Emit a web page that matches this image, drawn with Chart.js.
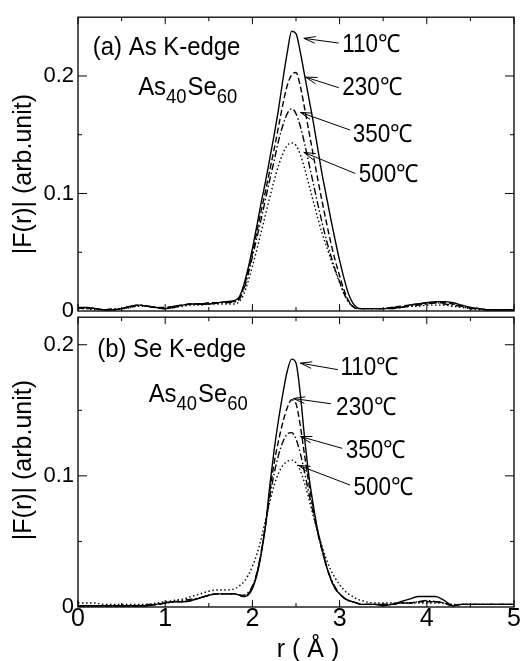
<!DOCTYPE html>
<html>
<head>
<meta charset="utf-8">
<script src="https://cdn.jsdelivr.net/npm/chart.js@4.4.0/dist/chart.umd.min.js"></script>
<style>
  body { margin: 0; background: #fff; }
  #wrap { position: relative; width: 520px; height: 661px; }
  canvas { position: absolute; left: 0; }
</style>
</head>
<body>
<div id="wrap">
  <canvas id="panelA" width="520" height="330" style="top:0"></canvas>
  <canvas id="panelB" width="520" height="361" style="top:300px"></canvas>
</div>
<script>
// r grid (Å), finer around the first-shell peak
const rGrid = [0,0.1,0.2,0.3,0.4,0.5,0.6,0.7,0.8,0.9,1.0,1.1,1.2,1.3,1.4,1.5,1.6,1.7,
  1.8,1.85,1.9,1.95,2.0,2.05,2.1,2.15,2.2,2.25,2.3,2.35,2.4,2.45,2.5,2.55,2.6,2.65,2.7,2.75,2.8,2.85,2.9,2.95,3.0,3.05,3.1,3.15,3.2,3.25,3.3,
  3.4,3.5,3.6,3.7,3.8,3.9,4.0,4.1,4.2,4.3,4.4,4.5,4.6,4.7,4.8,4.9,5.0];

const temps = ['110℃', '230℃', '350℃', '500℃'];

// (a) As K-edge
const asK110 = [0.003,0.003,0.002,0.001,0.001,0.002,0.004,0.005,0.004,0.003,0.002,0.004,0.005,0.006,0.006,0.006,0.007,0.008,
  0.009,0.012,0.022,0.036,0.053,0.072,0.092,0.110,0.130,0.150,0.172,0.197,0.220,0.238,0.236,0.220,0.200,0.180,0.160,0.138,0.116,0.097,0.078,0.060,0.043,0.028,0.015,0.007,0.003,0.002,0.002,
  0.002,0.002,0.003,0.003,0.005,0.006,0.007,0.008,0.008,0.007,0.005,0.003,0.002,0.001,0.001,0.001,0.001];
const asK230 = [0.003,0.002,0.002,0.001,0.001,0.002,0.004,0.005,0.004,0.003,0.003,0.004,0.005,0.006,0.006,0.007,0.007,0.008,
  0.008,0.011,0.020,0.033,0.049,0.067,0.085,0.102,0.120,0.138,0.157,0.176,0.192,0.201,0.203,0.191,0.172,0.152,0.132,0.112,0.093,0.075,0.058,0.043,0.030,0.018,0.009,0.004,0.002,0.002,0.002,
  0.002,0.002,0.003,0.004,0.005,0.006,0.007,0.007,0.007,0.006,0.004,0.003,0.002,0.001,0.001,0.001,0.001];
const asK350 = [0.002,0.003,0.002,0.001,0.002,0.002,0.003,0.005,0.004,0.003,0.002,0.003,0.005,0.006,0.006,0.006,0.007,0.007,
  0.008,0.010,0.018,0.031,0.046,0.062,0.078,0.095,0.112,0.128,0.145,0.158,0.168,0.172,0.168,0.157,0.142,0.125,0.108,0.091,0.075,0.060,0.047,0.035,0.025,0.015,0.008,0.004,0.002,0.002,0.002,
  0.002,0.002,0.002,0.003,0.004,0.005,0.006,0.007,0.006,0.005,0.004,0.002,0.002,0.001,0.001,0.001,0.001];
const asK500 = [0.002,0.002,0.001,0.001,0.001,0.002,0.003,0.004,0.004,0.003,0.002,0.003,0.004,0.005,0.005,0.006,0.006,0.006,
  0.006,0.008,0.014,0.025,0.038,0.052,0.067,0.082,0.097,0.111,0.124,0.134,0.141,0.143,0.141,0.133,0.121,0.107,0.093,0.079,0.066,0.055,0.044,0.034,0.024,0.015,0.008,0.004,0.002,0.002,0.002,
  0.002,0.002,0.002,0.003,0.004,0.004,0.005,0.005,0.005,0.004,0.003,0.002,0.001,0.001,0.001,0.001,0.001];

// (b) Se K-edge
const seK110 = [0.001,0.001,0.001,0.001,0.001,0.001,0.001,0.001,0.001,0.002,0.003,0.004,0.004,0.005,0.007,0.009,0.010,0.010,
  0.010,0.009,0.008,0.009,0.014,0.024,0.040,0.062,0.093,0.120,0.143,0.163,0.180,0.189,0.186,0.162,0.128,0.099,0.077,0.058,0.044,0.031,0.021,0.014,0.010,0.007,0.005,0.004,0.003,0.002,0.002,
  0.002,0.001,0.002,0.004,0.006,0.008,0.008,0.008,0.005,0.001,0.002,0.002,0.002,0.002,0.002,0.002,0.002];
const seK230 = [0.001,0.001,0.001,0.001,0.001,0.001,0.001,0.001,0.001,0.002,0.003,0.004,0.004,0.005,0.007,0.009,0.010,0.010,
  0.010,0.009,0.008,0.010,0.015,0.025,0.041,0.062,0.088,0.110,0.127,0.141,0.152,0.158,0.155,0.138,0.115,0.093,0.074,0.057,0.043,0.031,0.021,0.014,0.010,0.007,0.005,0.004,0.003,0.002,0.002,
  0.002,0.002,0.002,0.003,0.003,0.004,0.004,0.004,0.003,0.001,0.002,0.002,0.002,0.002,0.002,0.002,0.002];
const seK350 = [0.001,0.001,0.001,0.001,0.001,0.001,0.001,0.001,0.002,0.002,0.003,0.004,0.005,0.006,0.007,0.009,0.010,0.010,
  0.010,0.009,0.009,0.011,0.016,0.026,0.042,0.062,0.084,0.102,0.116,0.126,0.132,0.133,0.128,0.117,0.102,0.086,0.071,0.056,0.043,0.031,0.022,0.015,0.010,0.007,0.005,0.004,0.003,0.002,0.002,
  0.002,0.002,0.002,0.003,0.003,0.004,0.005,0.004,0.003,0.001,0.002,0.002,0.002,0.002,0.002,0.002,0.002];
const seK500 = [0.003,0.003,0.003,0.002,0.002,0.002,0.002,0.002,0.002,0.003,0.004,0.005,0.006,0.008,0.010,0.012,0.013,0.013,
  0.014,0.016,0.019,0.024,0.031,0.040,0.052,0.066,0.080,0.093,0.102,0.108,0.111,0.112,0.110,0.104,0.094,0.082,0.069,0.057,0.046,0.036,0.028,0.022,0.017,0.013,0.010,0.008,0.006,0.005,0.004,
  0.003,0.003,0.003,0.003,0.003,0.003,0.003,0.003,0.003,0.002,0.002,0.002,0.002,0.002,0.002,0.002,0.002];

const xTickVals = [0, 1, 2, 3, 4, 5];
const yTickVals = [0, 0.1, 0.2];

const FONT = '"Liberation Sans", Arial, Helvetica, sans-serif';
Chart.defaults.font.family = FONT;
Chart.defaults.color = '#000';

const dashes = [[], [6, 3], [7, 2.5, 1.5, 2.5], [1.5, 2.5]];

// the figure's lettering is a slightly narrow sans, so squeeze it a bit
function narrowText(ctx, t, x, y, size, sx) {
  ctx.font = size + 'px ' + FONT;
  ctx.save();
  ctx.translate(x, y);
  ctx.scale(sx, 1);
  ctx.fillText(t, 0, 0);
  ctx.restore();
  return ctx.measureText(t).width * sx;
}

// frame, inward ticks, labels and arrows
const panelDecor = {
  id: 'panelDecor',
  afterDraw(chart, args, opts) {
    const { ctx, chartArea: a } = chart;
    const x = chart.scales.x, y = chart.scales.y;
    const px = v => x.getPixelForValue(v);
    const py = v => y.getPixelForValue(v);
    const seg = (x1, y1, x2, y2) => { ctx.beginPath(); ctx.moveTo(x1, y1); ctx.lineTo(x2, y2); ctx.stroke(); };

    ctx.save();
    ctx.strokeStyle = '#000';
    ctx.fillStyle = '#000';
    ctx.lineWidth = 1.3;
    ctx.strokeRect(a.left, a.top, a.right - a.left, a.bottom - a.top);

    ctx.lineWidth = 1;
    for (let i = 0; i <= 10; i++) {
      const len = i % 2 === 0 ? 7 : 4;
      seg(px(i * 0.5), a.top, px(i * 0.5), a.top + len);
      seg(px(i * 0.5), a.bottom, px(i * 0.5), a.bottom - len);
    }
    for (let i = 1; i * 0.05 < y.max; i++) {
      const len = i % 2 === 0 ? 9 : 4;
      seg(a.left, py(i * 0.05), a.left + len, py(i * 0.05));
      seg(a.right, py(i * 0.05), a.right - len, py(i * 0.05));
    }

    ctx.textBaseline = 'middle';
    ctx.textAlign = 'left';

    // panel label
    narrowText(ctx, opts.edge.text, px(opts.edge.at[0]), py(opts.edge.at[1]), 26, 0.92);

    // As40Se60 with subscripts
    let cx = px(opts.formula[0]);
    const cy = py(opts.formula[1]);
    [['As', 0], ['40', 1], ['Se', 0], ['60', 1]].forEach(([t, sub]) => {
      cx += narrowText(ctx, t, cx, cy + (sub ? 10 : 0), sub ? 20 : 26, 0.92) + (sub ? 1 : 0);
    });

    // temperature labels and arrows
    opts.notes.forEach((n, i) => {
      narrowText(ctx, temps[i], px(n.text[0]), py(n.text[1]), 25, 0.9);
      const x1 = px(n.tail[0]), y1 = py(n.tail[1]);
      const x2 = px(n.tip[0]), y2 = py(n.tip[1]);
      seg(x1, y1, x2, y2);
      const ang = Math.atan2(y2 - y1, x2 - x1) + Math.PI;
      [-0.28, 0.28].forEach(d => seg(x2, y2, x2 + 12 * Math.cos(ang + d), y2 + 12 * Math.sin(ang + d)));
    });

    // y title
    ctx.font = '25px ' + FONT;
    ctx.save();
    ctx.translate(24, (a.top + a.bottom) / 2 + opts.titleShift);
    ctx.rotate(-Math.PI / 2);
    ctx.textAlign = 'center';
    ctx.fillText('|F(r)| (arb.unit)', 0, 0);
    ctx.restore();

    // x title only under the lower panel
    if (opts.xTitle) {
      ctx.font = '25px ' + FONT;
      ctx.textAlign = 'center';
      ctx.textBaseline = 'alphabetic';
      ctx.fillText(opts.xTitle, (a.left + a.right) / 2 + 12, a.bottom + 50);
    }
    ctx.restore();
  }
};

function makePanel(id, series, yMax, padTop, xAxisH, showX, decor) {
  return new Chart(document.getElementById(id), {
    type: 'line',
    data: {
      datasets: series.map((s, i) => ({
        label: temps[i],
        data: rGrid.map((r, k) => ({ x: r, y: s[k] })),
        borderColor: '#000',
        borderWidth: 1.4,
        borderDash: dashes[i],
        pointRadius: 0,
        fill: false,
        cubicInterpolationMode: 'monotone',
      })),
    },
    options: {
      responsive: false,
      animation: false,
      layout: { padding: { top: padTop, right: 6, left: 0, bottom: 0 } },
      plugins: {
        legend: { display: false },
        tooltip: { enabled: false },
        panelDecor: decor,
      },
      scales: {
        x: {
          type: 'linear',
          min: 0,
          max: 5,
          grid: { display: false, drawTicks: false },
          border: { display: false },
          afterBuildTicks: s => { s.ticks = xTickVals.map(v => ({ value: v })); },
          ticks: { display: showX, font: { size: 25 }, padding: -3, maxRotation: 0 },
          afterFit: s => { s.height = xAxisH; },
        },
        y: {
          min: 0,
          max: yMax,
          grid: { display: false, drawTicks: false },
          border: { display: false },
          afterBuildTicks: s => { s.ticks = yTickVals.map(v => ({ value: v })); },
          ticks: {
            font: { size: 22 },
            padding: 4,
            callback: v => (v === 0 ? '0' : v.toFixed(1)),
          },
          afterFit: s => { s.width = 78; },
        },
      },
    },
    plugins: [panelDecor],
  });
}

makePanel('panelA', [asK110, asK230, asK350, asK500], 0.25, 17, 19, false, {
  edge: { text: '(a) As K-edge', at: [0.17, 0.224] },
  formula: [0.69, 0.190],
  titleShift: 10,
  notes: [
    { text: [3.03, 0.226], tail: [2.99, 0.228], tip: [2.59, 0.232] },
    { text: [3.03, 0.190], tail: [2.99, 0.190], tip: [2.61, 0.199] },
    { text: [3.15, 0.150], tail: [3.12, 0.154], tip: [2.55, 0.169] },
    { text: [3.22, 0.116], tail: [3.18, 0.117], tip: [2.59, 0.135] },
  ],
});

makePanel('panelB', [seK110, seK230, seK350, seK500], 0.221, 11, 54, true, {
  edge: { text: '(b) Se K-edge', at: [0.22, 0.196] },
  formula: [0.81, 0.162],
  titleShift: -2,
  xTitle: 'r ( Å )',
  notes: [
    { text: [3.01, 0.182], tail: [2.98, 0.181], tip: [2.55, 0.186] },
    { text: [2.96, 0.152], tail: [2.90, 0.155], tip: [2.47, 0.159] },
    { text: [3.07, 0.119], tail: [3.03, 0.121], tip: [2.55, 0.130] },
    { text: [3.16, 0.091], tail: [3.12, 0.093], tip: [2.53, 0.108] },
  ],
});
</script>
</body>
</html>
